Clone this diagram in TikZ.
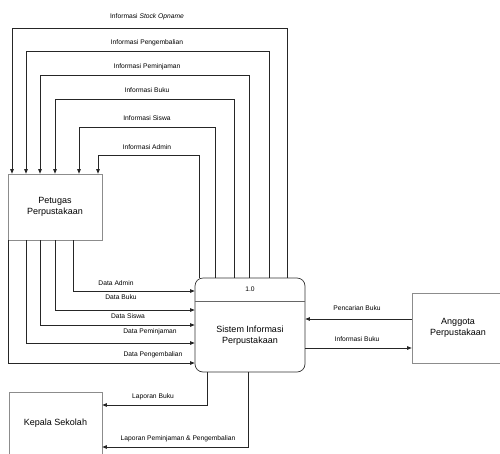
\documentclass[tikz,border=0pt]{standalone}
\usepackage{fontspec}
\setmainfont{Liberation Sans}
\usetikzlibrary{arrows.meta}
\begin{document}
\begin{tikzpicture}[x=1pt,y=-1pt,
  entity/.style={draw=black!45, line width=0.6pt, align=center, inner sep=0pt,
    font=\fontsize{9}{11}\selectfont},
  procbox/.style={draw=black!80, line width=0.7pt, rounded corners=8pt, inner sep=0pt},
  ptext/.style={align=center, inner sep=0pt, font=\fontsize{9}{11}\selectfont},
  flow/.style={draw=black!85, line width=0.7pt, -{Triangle[length=4.5pt,width=3.5pt]}},
  lab/.style={inner sep=0pt, font=\fontsize{6.7}{7.5}\selectfont}
]
\useasboundingbox (0,0) rectangle (500,453);

% entities and process
\node[entity, minimum width=94pt, minimum height=66pt] (pet) at (55,207) {Petugas\\Perpustakaan};
\node[entity, minimum width=93pt, minimum height=62pt] (kep) at (55.5,423) {Kepala Sekolah};
\node[entity, minimum width=92pt, minimum height=70pt] (ang) at (458,328) {Anggota\\Perpustakaan};
\node[procbox, minimum width=110pt, minimum height=94pt] (proc) at (250,325) {};
\coordinate (sepy) at (0,301);
\draw[draw=black!60, line width=0.6pt] (proc.west |- sepy) -- (proc.east |- sepy);
\node[lab] (pnum) at (250,289.5) {1.0};
\node[ptext] (pname) at (250,336) {Sistem Informasi\\Perpustakaan};

% flows from process to Petugas (top)
\foreach \i/\xs/\yt/\xe/\ly/\txt in {
  1/287/28/12/17/{Informasi \textit{Stock Opname}},
  2/269/51/26/43/{Informasi Pengembalian},
  3/249/75/40/67/{Informasi Peminjaman},
  4/234/99/55/90/{Informasi Buku},
  5/215/127/79/118/{Informasi Siswa},
  6/199/155/98/147/{Informasi Admin}}{
  \coordinate (ts\i) at (\xs,\yt);
  \coordinate (te\i) at (\xe,\yt);
  \draw[flow] (proc.north -| ts\i) -- (ts\i) -- (te\i) -- (pet.north -| te\i);
  \node[lab] (tl\i) at (147,\ly) {\txt};
}

% flows from Petugas to process
\foreach \i/\xs/\yt/\lx/\ly/\txt in {
  1/73/291/116/283/{Data Admin},
  2/55/310/121/297/{Data Buku},
  3/40/325/128/316/{Data Siswa},
  4/26/343/150/332/{Data Peminjaman},
  5/8.5/363/153/355/{Data Pengembalian}}{
  \coordinate (ds\i) at (\xs,\yt);
  \draw[flow] (pet.south -| ds\i) -- (ds\i) -- (proc.west |- ds\i);
  \node[lab] (dl\i) at (\lx,\ly) {\txt};
}

% Anggota flows
\coordinate (ay1) at (0,319);
\coordinate (ay2) at (0,348);
\draw[flow] (ang.west |- ay1) -- (proc.east |- ay1);
\draw[flow] (proc.east |- ay2) -- (ang.west |- ay2);
\node[lab] (al1) at (357,308) {Pencarian Buku};
\node[lab] (al2) at (357,339) {Informasi Buku};

% Kepala Sekolah flows
\coordinate (k1) at (207,405);
\coordinate (k2) at (248,447);
\draw[flow] (proc.south -| k1) -- (k1) -- (kep.east |- k1);
\draw[flow] (proc.south -| k2) -- (k2) -- (kep.east |- k2);
\node[lab] (kl1) at (153,397) {Laporan Buku};
\node[lab] (kl2) at (178,439) {Laporan Peminjaman \& Pengembalian};
\end{tikzpicture}
\end{document}
